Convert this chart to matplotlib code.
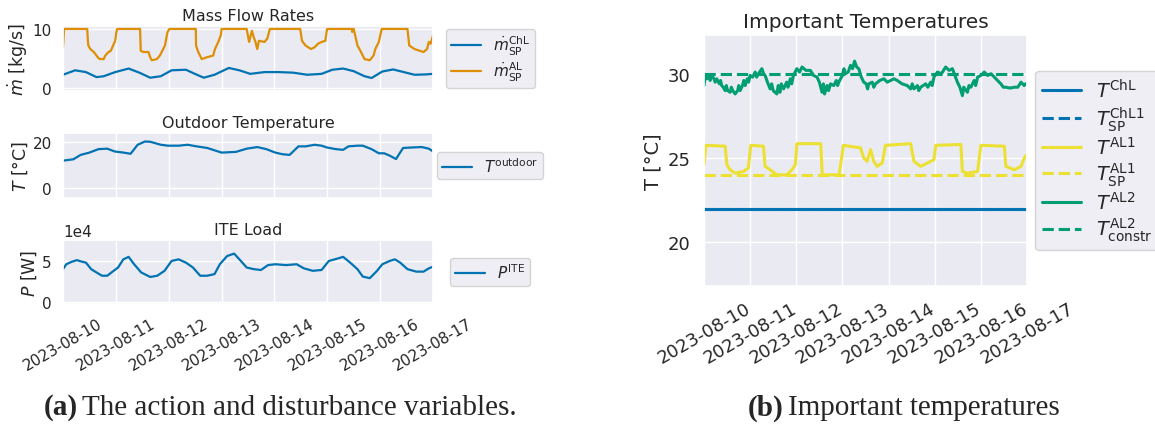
import numpy as np
import pandas as pd
import matplotlib
matplotlib.use("Agg")
import matplotlib.pyplot as plt
import seaborn as sns

# ==========================================================
# Data (hours after 2023-08-10 00:00)
# ==========================================================

START = pd.Timestamp("2023-08-10")

m_al_hours = [0, 0.5, 11, 11.3, 11.5, 12.4, 14, 15.8, 16.7, 18.5, 19.2, 20.7, 21.7, 23.7, 24.2, 24.6,
              35, 35.3, 36.5, 38.8, 39.6, 40.3, 42.6, 44, 44.8, 46.3, 47.4, 48.3,
              60.3, 60.4, 61.4, 63, 65.2, 68.2, 69, 70.5, 71.7, 72,
              83.4, 84.5, 85.8, 86.6, 87.4, 88.2, 89.0, 91.5, 92.8, 93.9,
              107.7, 108.5, 110.1, 112.6, 114.2, 115.8, 117.4, 119.1, 119.9,
              131.0, 131.3, 131.6, 132.0, 133.7, 135.3, 136.9, 139.3, 141, 141.8, 143.4, 144.7,
              156.4, 157.2, 159.6, 162, 163.7, 165.3, 166.1, 166.9, 168]
m_al_values = [6.9, 10, 10, 8.0, 7.2, 6.6, 6.1, 5.2, 4.9, 4.9, 5.5, 6.1, 6.3, 8.0, 9.4, 10,
               10, 6.3, 6.1, 6.1, 5.2, 4.7, 4.9, 5.5, 6.1, 7.2, 9.4, 10,
               10, 7.2, 6.1, 4.9, 5.2, 5.5, 6.6, 7.8, 9.0, 10,
               10, 7.8, 9.7, 8.6, 7.8, 6.6, 8.0, 7.8, 8.4, 10,
               10, 8.0, 7.2, 6.6, 6.9, 7.5, 7.8, 8.0, 10,
               10, 9.5, 10, 10, 7.2, 6.1, 4.9, 4.7, 5.5, 6.6, 7.8, 10,
               10, 7.2, 6.6, 6.3, 6.1, 6.6, 7.8, 7.5, 8.9]

m_chl_hours = [0, 5.5, 10.4, 15.2, 18.5, 23.7, 29.8, 34.7, 39.6, 44.4, 49.3, 55.8, 59.9, 63.9,
               68.8, 75.3, 80.1, 85, 91.5, 98, 104.5, 110.9, 117.4, 122.3, 127.2, 132, 136.9,
               140.1, 145, 149.9, 154.7, 159.6, 164.5, 168]
m_chl_values = [2.25, 3.0, 2.7, 1.85, 2.0, 2.7, 3.3, 2.6, 1.75, 2.0, 3.0, 3.1, 2.4, 1.75,
                2.25, 3.4, 3.0, 2.4, 2.7, 2.7, 2.6, 2.25, 2.4, 3.1, 3.3, 2.85, 2.0,
                1.7, 2.8, 3.15, 2.7, 2.25, 2.3, 2.4]

t_out_hours = [0, 4.7, 8, 12, 16.1, 20.1, 23.4, 27.4, 30.7, 33.9, 37.2, 39.6, 44.4, 47.7, 52.5,
               56.6, 60.7, 65.5, 72, 78.5, 83.4, 88.2, 92.3, 96.4, 99.6, 102.9, 106.9, 110.2,
               114.2, 117.4, 119.9, 123.9, 127.2, 129.6, 133.7, 136.1, 140.1, 143.4, 145.8,
               148.3, 151.2, 154.4, 158, 162.9, 166.1, 168]
t_out_values = [11.9, 12.5, 14.4, 15.4, 16.9, 17.1, 15.9, 15.4, 14.9, 18.8, 20.2, 20.1, 18.8, 18.4,
                18.4, 18.8, 18.1, 17.4, 15.4, 15.7, 17.1, 17.8, 16.9, 15.4, 14.7, 14.4, 18.1,
                18.1, 18.8, 18.4, 17.6, 16.9, 16.6, 18.1, 18.4, 18.4, 16.9, 15.1, 15.1, 14.1,
                12.6, 17.4, 17.6, 17.8, 17.1, 15.9]

p_ite_hours = [0, 1.5, 3.9, 6.3, 8.8, 10.4, 12.8, 15.2, 17.7, 20.1, 22.5, 25, 27.4, 29.8, 32.3,
               35.5, 39.6, 42.8, 46.1, 49.3, 52.5, 55.8, 59, 62.3, 65.5, 68.8, 71.2, 74.5,
               77.7, 80.1, 83.4, 86.7, 89.9, 93.1, 96.4, 101.2, 106.1, 109.4, 113.4, 117.4,
               120.7, 124.7, 127.2, 130.4, 133.7, 136.1, 139.3, 142.6, 145, 148.3, 150.7,
               153.1, 156.4, 160.4, 163.7, 166.1, 168]
p_ite_values = [40000, 46000, 49000, 51000, 49000, 48000, 40000, 36000, 32000, 32000, 37000,
                42000, 52000, 55000, 46000, 36000, 30500, 32000, 38000, 50000, 52000, 48000,
                42000, 32000, 32000, 34000, 46000, 56000, 59000, 52000, 42000, 40000, 39000,
                45000, 46000, 45000, 46000, 41000, 38000, 39000, 50000, 53000, 55000, 48000,
                40000, 31000, 29000, 38000, 46000, 50000, 52000, 48000, 40000, 37000, 37000,
                41000, 43000]

# (hour, value) pairs for the noisy T_AL2 trace
t_al2_points = [
    (0, 29.3), (0.7, 29.9), (1.4, 29.7), (2.5, 29.9), (3.2, 29.6), (4, 29.9), (5.2, 29.7),
    (5.8, 29.5), (6.6, 29.7), (8, 29.4), (8.6, 29.6), (9.2, 29.3), (10, 29.2), (11, 29.0),
    (11.6, 29.3), (12.3, 29.0), (13.6, 28.9), (14.2, 29.2), (15, 29.0), (16.2, 28.8),
    (17.5, 29.0), (18.1, 29.3), (18.8, 29.0), (20, 29.3), (20.7, 29.6), (21.4, 29.3),
    (22.5, 29.7), (23.2, 29.5), (24, 29.9), (25.3, 29.8), (26.6, 30.1), (27.4, 29.8),
    (28.3, 30.0), (30.1, 30.3), (31, 30.0), (31.8, 29.9), (33, 29.5), (34.4, 29.1),
    (35.2, 29.4), (36, 29.0), (37.9, 28.8), (38.6, 29.3), (39.5, 28.9), (40.2, 29.4),
    (41.4, 29.1), (43, 29.5), (43.7, 29.2), (44.9, 29.7), (45.6, 29.4), (46.5, 29.9),
    (48.3, 30.3), (49.7, 30.1), (51, 30.4), (53, 30.2), (55.3, 30.2), (57, 29.9), (58.8, 29.8),
    (60, 29.5), (61.4, 28.9), (62.1, 29.4), (62.7, 28.8), (64, 29.3), (64.8, 29.0), (65.8, 29.4),
    (67.5, 29.3), (68.8, 29.6), (69.5, 29.3), (70.1, 29.5), (72, 29.9), (72.8, 30.3), (73.6, 30.0),
    (75, 30.1), (76.2, 30.5), (77.3, 30.3), (78.3, 30.75), (79.4, 30.4), (80.5, 30.3),
    (81.8, 29.8), (83.1, 29.5), (84.4, 29.4), (85.1, 29.1), (85.7, 29.4), (87.5, 29.5),
    (88.3, 29.2), (89.2, 29.4), (91.4, 29.6), (93.6, 29.7), (95.3, 29.5), (97, 29.6),
    (98.8, 29.7), (100.5, 29.6), (103, 29.4), (105.7, 29.3), (107.5, 29.1), (108.3, 29.4),
    (109.2, 29.1), (111, 29.3), (111.7, 29.0), (112.7, 29.2), (115.3, 29.4), (116.4, 29.2),
    (117.9, 29.5), (118.7, 29.3), (119.6, 29.8), (121.4, 30.1), (123.5, 30.0), (125.7, 30.4),
    (127.5, 30.2), (129.2, 30.3), (130.5, 29.9), (131.8, 29.5), (133.1, 29.2), (134.4, 28.7),
    (135.1, 29.2), (135.7, 29.1), (137, 28.9), (137.8, 29.3), (138.8, 29.2), (140.5, 29.6),
    (141.3, 29.3), (142.3, 29.8), (144, 29.9), (145.8, 30.1), (147.5, 29.9), (149.3, 30.0),
    (151, 29.8), (152.7, 29.6), (154.4, 29.4), (155.7, 29.2), (157, 29.2), (159.2, 29.15),
    (161.4, 29.2), (163.2, 29.2), (164.9, 29.5), (166.5, 29.3), (167.2, 29.4), (168, 29.4),
]
t_al2_hours = [p[0] for p in t_al2_points]
t_al2_values = [p[1] for p in t_al2_points]

t_al1_hours = [0, 1, 11, 11.9, 13.6, 16.2, 20.5, 23.1, 24.3, 30.9, 31.8, 34.4, 37.9, 43.1, 45.7,
               47.5, 48.3, 60.7, 61.5, 70.3, 72.5, 81.4, 83.1, 84.9, 86.6, 88.3, 90.1, 92.7,
               94.4, 107.5, 109.2, 112.7, 116.2, 119.6, 120.5, 133.6, 134.4, 137, 142.3, 144,
               156.2, 157, 161.4, 164.9, 166.6, 168]
t_al1_values = [24.6, 25.75, 25.7, 24.6, 24.3, 24.1, 24.2, 24.4, 25.75, 25.7, 24.5, 24.3, 24.0,
                24.0, 24.3, 24.6, 25.85, 25.85, 24.0, 24.0, 25.75, 25.6, 25.0, 24.8, 25.5, 24.8,
                24.5, 24.7, 25.75, 25.85, 24.8, 24.5, 24.7, 24.9, 25.75, 25.8, 24.2, 24.1, 24.2,
                25.75, 25.7, 24.5, 24.3, 24.5, 25.0, 25.2]

t_chl_value = 22.0
t_chl1_sp_value = 22.0
t_al1_sp_value = 24.0
t_al2_constr_value = 30.0

def to_time(hours):
    return START + pd.to_timedelta(hours, unit="h")

# ==========================================================
# Style
# ==========================================================

sns.set_theme(style="darkgrid")
colors = sns.color_palette("colorblind")
blue, orange, green, yellow = colors[0], colors[1], colors[2], colors[8]

fig = plt.figure(figsize=(11.55, 4.27), dpi=100)

W, H = 1155, 427

def box(x0, y0, x1, y1):
    return [x0 / W, 1 - y1 / H, (x1 - x0) / W, (y1 - y0) / H]

xmin, xmax = START, START + pd.Timedelta(days=7)
day_ticks = pd.date_range("2023-08-10", "2023-08-17", freq="D")

# ==========================================================
# (a) Left panels
# ==========================================================

ax1 = fig.add_axes(box(63, 27, 433, 92))
ax2 = fig.add_axes(box(63, 134, 433, 199))
ax3 = fig.add_axes(box(63, 241, 433, 305))

small_leg = dict(loc="center left", fontsize=11, borderaxespad=0,
                 labelspacing=0.2, borderpad=0.3)

ax1.plot(to_time(m_chl_hours), m_chl_values, color=blue, lw=1.6, label=r"$\dot{m}_{\mathrm{SP}}^{\mathrm{ChL}}$")
ax1.plot(to_time(m_al_hours), m_al_values, color=orange, lw=1.6, label=r"$\dot{m}_{\mathrm{SP}}^{\mathrm{AL}}$")
ax1.set_ylim(-0.5, 10.5)
ax1.set_yticks([0, 10])
ax1.set_ylabel(r"$\dot{m}$ [kg/s]", fontsize=12.5)
ax1.set_title("Mass Flow Rates", fontsize=11.5, pad=4)
ax1.legend(bbox_to_anchor=(1.035, 0.5), **small_leg)

ax2.plot(to_time(t_out_hours), t_out_values, color=blue, lw=1.6, label=r"$T^{\mathrm{outdoor}}$")
ax2.set_ylim(-4.3, 23.9)
ax2.set_yticks([0, 20])
ax2.set_ylabel(r"$T$ [°C]", fontsize=12.5)
ax2.set_title("Outdoor Temperature", fontsize=11.5, pad=4)
ax2.legend(bbox_to_anchor=(1.011, 0.5), **small_leg)

ax3.plot(to_time(p_ite_hours), p_ite_values, color=blue, lw=1.6, label=r"$P^{\mathrm{ITE}}$")
ax3.set_ylim(-2500, 75600)
ax3.set_yticks([0, 50000])
ax3.ticklabel_format(axis="y", style="sci", scilimits=(0, 0))
ax3.yaxis.get_offset_text().set_fontsize(11)
ax3.set_ylabel(r"$P$ [W]", fontsize=12.5)
ax3.set_title("ITE Load", fontsize=11.5, pad=4)
ax3.legend(bbox_to_anchor=(1.046, 0.5), **small_leg)

for ax in (ax1, ax2, ax3):
    ax.set_xlim(xmin, xmax)
    ax.set_xticks(day_ticks)
    ax.tick_params(axis="both", labelsize=11, pad=2)
    ax.yaxis.labelpad = 2

ax1.set_xticklabels([])
ax2.set_xticklabels([])
ax3.set_xticklabels([d.strftime("%Y-%m-%d") for d in day_ticks], rotation=30, ha="center")

# ==========================================================
# (b) Right panel
# ==========================================================

axr = fig.add_axes(box(704, 36, 1027, 287))
full = to_time([0, 168])

axr.plot(full, [t_chl_value] * 2, color=blue, lw=2.2, label=r"$T^{\mathrm{ChL}}$")
axr.plot(full, [t_chl1_sp_value] * 2, color=blue, lw=2.2, ls="--", label=r"$T_{\mathrm{SP}}^{\mathrm{ChL1}}$")
axr.plot(to_time(t_al1_hours), t_al1_values, color=yellow, lw=2.2, label=r"$T^{\mathrm{AL1}}$")
axr.plot(full, [t_al1_sp_value] * 2, color=yellow, lw=2.2, ls="--", label=r"$T_{\mathrm{SP}}^{\mathrm{AL1}}$")
axr.plot(to_time(t_al2_hours), t_al2_values, color=green, lw=2.2, label=r"$T^{\mathrm{AL2}}$")
axr.plot(full, [t_al2_constr_value] * 2, color=green, lw=2.2, ls="--", label=r"$T_{\mathrm{constr}}^{\mathrm{AL2}}$")

axr.set_xlim(xmin, xmax)
axr.set_ylim(17.4, 32.3)
axr.set_yticks([20, 25, 30])
axr.set_xticks(day_ticks)
axr.set_xticklabels([d.strftime("%Y-%m-%d") for d in day_ticks], rotation=30, ha="center")
axr.tick_params(axis="both", labelsize=13)
axr.set_ylabel("T [°C]", fontsize=14)
axr.set_title("Important Temperatures", fontsize=14.5, pad=6)
axr.legend(loc="center left", bbox_to_anchor=(1.025, 0.5), fontsize=14, borderaxespad=0,
           labelspacing=0.15, borderpad=0.35, handlelength=2.0)

# ==========================================================
# Captions
# ==========================================================

cap = dict(family="Liberation Serif", fontsize=21, va="center")
fig.text(44 / W, 1 - 408 / H, "(a)", weight="bold", **cap)
fig.text(82 / W, 1 - 408 / H, "The action and disturbance variables.", **cap)
fig.text(748 / W, 1 - 408 / H, "(b)", weight="bold", **cap)
fig.text(788 / W, 1 - 408 / H, "Important temperatures", **cap)

fig.savefig("out.png", dpi=100)
